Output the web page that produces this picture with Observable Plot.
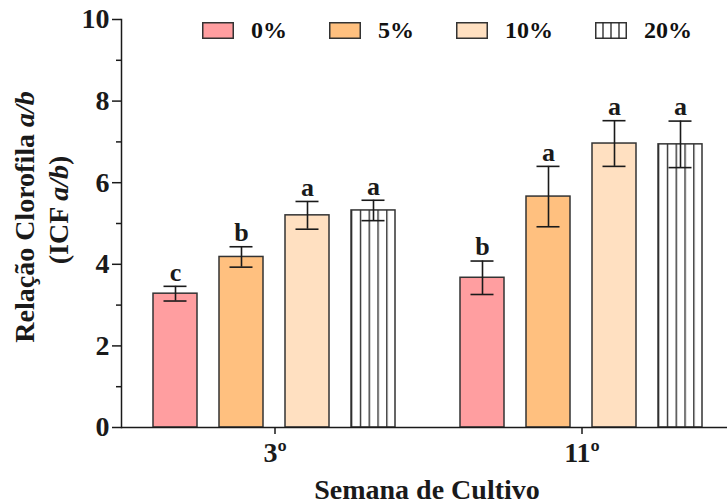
<!DOCTYPE html>
<html>
<head>
<meta charset="utf-8">
<script src="https://cdn.jsdelivr.net/npm/d3@7"></script>
<script src="https://cdn.jsdelivr.net/npm/@observablehq/plot@0.6"></script>
<style>
  html, body { margin: 0; padding: 0; background: #fff; }
  #chart { position: relative; width: 727px; height: 504px; overflow: hidden; background: #fff; }
  #chart > svg { max-width: none !important; width: 735px; height: 504px; }
  #legend { position: absolute; top: 22px; left: 202px; display: flex; align-items: center;
            font-family: "Liberation Serif", "Times New Roman", serif; font-weight: bold; font-size: 24px; color: #111; }
  #legend .item { display: flex; align-items: center; margin-right: 42px; }
  #legend .item svg { display: block; margin-right: 17px; }
  #legend .item span { line-height: 17px; }
</style>
</head>
<body>
<div id="chart"><div id="legend"></div></div>
<script>
// Cultivation weeks and treatment concentrations
const weeks = ["3º", "11º"];
const concs = ["0%", "5%", "10%", "20%"];
const colors = ["#FF9EA0", "#FFC07F", "#FFE0C1", "url(#vlines)"];

// Chlorophyll a/b ratio (mean ± error) and significance letters per week
const means3 = [3.28, 4.18, 5.20, 5.32];
const errs3 = [0.18, 0.25, 0.34, 0.25];
const letters3 = ["c", "b", "a", "a"];
const means11 = [3.67, 5.66, 6.96, 6.94];
const errs11 = [0.41, 0.74, 0.56, 0.57];
const letters11 = ["b", "a", "a", "a"];

const yMajor = [0, 2, 4, 6, 8, 10];
const yMinor = [1, 3, 5, 7, 9];

const rows = [];
[[means3, errs3, letters3], [means11, errs11, letters11]].forEach(([m, e, l], wi) => {
  concs.forEach((c, i) => rows.push({week: weeks[wi], conc: c, mean: m[i], err: e[i], letter: l[i]}));
});

const font = "Liberation Serif, Times New Roman, serif";
const ink = "#1a1a1a";

const svg = Plot.plot({
  width: 735,
  height: 504,
  marginTop: 19,
  marginBottom: 77,
  marginLeft: 121,
  marginRight: 0,
  style: {fontFamily: font, fontWeight: "bold", fontSize: "28px", color: ink, background: "white", maxWidth: "none"},
  fx: {domain: weeks, padding: 0, axis: null},
  x: {domain: concs, paddingInner: 0.333, paddingOuter: 0.49, axis: null},
  y: {domain: [0, 10]},
  color: {domain: concs, range: colors},
  marks: [
    Plot.barY(rows, {fx: "week", x: "conc", y: "mean", fill: "conc", stroke: "#333", strokeWidth: 1.5}),
    Plot.ruleX(rows, {fx: "week", x: "conc", y1: d => d.mean - d.err, y2: d => d.mean + d.err, stroke: ink, strokeWidth: 1.6}),
    Plot.tickY(rows, {fx: "week", x: "conc", y: d => d.mean + d.err, stroke: ink, strokeWidth: 1.6, insetLeft: 10.5, insetRight: 10.5}),
    Plot.tickY(rows, {fx: "week", x: "conc", y: d => d.mean - d.err, stroke: ink, strokeWidth: 1.6, insetLeft: 10.5, insetRight: 10.5}),
    Plot.text(rows, {fx: "week", x: "conc", y: d => d.mean + d.err, text: "letter", dy: -14, fontSize: 26, fontWeight: "bold", fill: ink}),
    Plot.ruleY([0], {stroke: ink, strokeWidth: 1.5}),
    Plot.frame({anchor: "left", facetAnchor: "left", stroke: ink, strokeWidth: 1.5}),
    Plot.axisY(yMajor, {tickSize: 9, tickPadding: 3, label: null, fontSize: 28, stroke: ink, strokeWidth: 1.5}),
    Plot.axisY(yMinor, {tickSize: 5, tickFormat: () => "", label: null, stroke: ink, strokeWidth: 1.5}),
    Plot.axisFx({anchor: "bottom", tickSize: 7, tickPadding: 8, label: null, fontSize: 28, stroke: ink, strokeWidth: 1.5})
  ]
});

// Vertical-line hatch used for the 20% bars
const defs = d3.select(svg).insert("defs", ":first-child");
const pat = defs.append("pattern").attr("id", "vlines")
  .attr("patternUnits", "objectBoundingBox").attr("width", 0.2).attr("height", 1);
pat.append("rect").attr("width", 100).attr("height", 2000).attr("fill", "white");
pat.append("rect").attr("x", 0).attr("width", 1.3).attr("height", 2000).attr("fill", "#222");

// Axis titles
const s = d3.select(svg);
s.append("text").attr("x", 427).attr("y", 499).attr("text-anchor", "middle")
  .attr("font-size", 28).attr("font-weight", "bold").attr("fill", ink)
  .text("Semana de Cultivo");
const t1 = s.append("text").attr("transform", "translate(34,217) rotate(-90)").attr("text-anchor", "middle")
  .attr("font-size", 28).attr("font-weight", "bold").attr("fill", ink);
t1.append("tspan").text("Relação Clorofila ");
t1.append("tspan").attr("font-style", "italic").text("a/b");
const t2 = s.append("text").attr("transform", "translate(68,210) rotate(-90)").attr("text-anchor", "middle")
  .attr("font-size", 28).attr("font-weight", "bold").attr("fill", ink);
t2.append("tspan").text("(ICF ");
t2.append("tspan").attr("font-style", "italic").text("a/b");
t2.append("tspan").text(")");

document.getElementById("chart").prepend(svg);

// Legend
const legend = d3.select("#legend");
concs.forEach((c, i) => {
  const item = legend.append("div").attr("class", "item");
  const sw = item.append("svg").attr("width", 32).attr("height", 17);
  sw.append("rect").attr("x", 0.75).attr("y", 0.75).attr("width", 30.5).attr("height", 15.5)
    .attr("fill", i === 3 ? "white" : colors[i]).attr("stroke", "#333").attr("stroke-width", 1.5);
  if (i === 3) {
    [1, 2, 3].forEach(k => sw.append("line").attr("x1", k * 8).attr("x2", k * 8)
      .attr("y1", 0.75).attr("y2", 16.25).attr("stroke", "#222").attr("stroke-width", 1.3));
  }
  item.append("span").text(c);
});
</script>
</body>
</html>
